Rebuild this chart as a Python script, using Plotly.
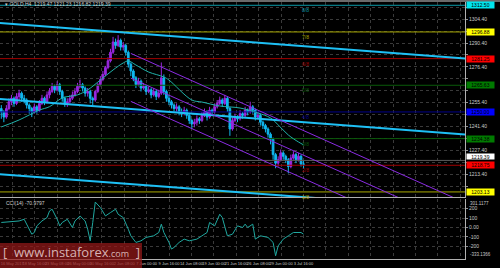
import plotly.graph_objects as go

# ---------------- data ----------------
closes = [1250,1247,1252,1256,1258,1255,1259,1261,1258,1257,
          1254,1252,1250,1253,1251,1255,1258,1256,1260,1262,
          1265,1263,1266,1262,1258,1255,1256,1258,1260,1262,
          1265,1266,1264,1261,1262,1258,1257,1262,1266,1269,
          1272,1276,1280,1285,1291,1289,1292,1288,1289,1285,
          1278,1274,1270,1266,1268,1264,1265,1262,1263,1260,
          1262,1259,1261,1270,1262,1258,1256,1254,1252,1253,
          1250,1249,1251,1248,1245,1243,1244,1246,1245,1248,
          1250,1247,1251,1250,1253,1255,1257,1255,1258,1252,
          1240,1245,1247,1246,1249,1248,1251,1250,1253,1251,
          1247,1248,1244,1242,1240,1237,1234,1225,1220,1222,
          1226,1224,1222,1218,1223,1225,1222,1224,1219.47,1219.39]
highs = [1254,1251,1254,1258,1260,1259,1261,1263,1262,1260,
         1258,1255,1253,1255,1254,1257,1260,1259,1262,1264,
         1267,1266,1268,1267,1263,1259,1258,1260,1262,1264,
         1267,1269,1267,1265,1264,1263,1259,1263,1267,1271,
         1274,1277,1282,1287,1294,1293,1295,1293,1291,1290,
         1286,1279,1275,1271,1270,1269,1267,1266,1265,1264,
         1264,1263,1263,1279,1272,1263,1260,1257,1255,1255,
         1254,1252,1253,1252,1249,1246,1246,1248,1247,1250,
         1252,1251,1253,1252,1255,1257,1259,1258,1260,1259,
         1253,1247,1249,1248,1251,1250,1253,1252,1256,1254,
         1252,1250,1249,1245,1243,1241,1238,1235,1226,1224,
         1228,1227,1225,1223,1225,1227,1226,1226,1225,1221.23]
lows = [1246,1244,1246,1251,1254,1253,1254,1257,1256,1255,
        1252,1249,1247,1249,1249,1250,1254,1254,1255,1258,
        1261,1261,1262,1260,1256,1253,1253,1255,1257,1259,
        1261,1264,1262,1259,1259,1255,1254,1256,1261,1265,
        1268,1271,1275,1279,1284,1287,1288,1286,1286,1283,
        1276,1271,1268,1264,1265,1262,1263,1260,1261,1258,
        1259,1257,1258,1260,1260,1256,1254,1252,1250,1250,
        1248,1247,1248,1246,1243,1240,1241,1242,1243,1244,
        1247,1245,1246,1248,1249,1252,1254,1253,1254,1250,
        1236,1239,1244,1244,1245,1246,1247,1248,1249,1249,
        1245,1246,1242,1240,1238,1235,1231,1222,1217,1218,
        1221,1222,1220,1214,1217,1222,1220,1221,1218,1216.82]
first_open = 1252

ma_bars = [0, 7, 15, 19, 24, 30, 34, 39, 44, 48, 50, 53, 58, 64, 66, 75, 79, 86, 94, 101, 106, 109, 113, 117, 119]
ma_vals = [1241.2, 1245.3, 1251.1, 1253.1, 1258.2, 1260.0, 1262.9, 1268.7, 1274.6, 1278.7, 1279.9,
           1277.5, 1273.4, 1270.5, 1268.7, 1257.0, 1255.8, 1253.5, 1252.3, 1249.4, 1246.5, 1242.4,
           1236.5, 1232.4, 1230.7]

cci_bars = [0,3,7,9,10,12,13,14,16,18,19,20,22,23,24,26,28,29,31,33,34,35,36,37,39,41,43,45,46,48,
            50,51,53,55,57,60,62,63,64,66,67,68,70,72,74,77,79,81,82,84,86,87,89,91,93,95,96,97,99,100,
            102,105,107,108,109,111,113,115,118,119]
cci_vals = [53,63,69,87,35,-71,-53,17,69,105,175,193,87,17,53,87,0,69,122,69,-18,-141,53,269,211,122,158,193,140,105,
            -18,-88,-158,-141,-105,-88,-53,35,-53,-158,-228,-211,-158,-123,-141,-123,-88,-53,53,17,140,105,-88,-71,17,0,35,0,35,-123,
            -88,-105,-158,-299,-194,-123,-88,-53,-53,-71]

mml_levels = [1312.50, 1296.88, 1281.25, 1265.63, 1250.00, 1234.38, 1218.75, 1203.13]
mml_names = ["8/8", "7/8", "6/8", "5/8", "4/8", "3/8", "2/8", "1/8"]

# trend lines: (bar_start, price_start, bar_end, price_end)
cyan_lines = [(0, 1302.1, 180, 1281.6), (0, 1257.5, 180, 1237.1), (0, 1213.4, 180, 1193.3)]
purple_lines = [(51, 1284.3, 185, 1195.2), (51, 1269.8, 185, 1180.8), (51, 1256.2, 185, 1167.1)]

date_labels = ["16 May 2017", "18 May 16:00", "23 May 08:00", "26 May 00:00", "30 May 16:00",
               "2 Jun 08:00", "7 Jun 00:00", "9 Jun 16:00", "14 Jun 08:00", "19 Jun 00:00",
               "21 Jun 16:00", "26 Jun 08:00", "29 Jun 00:00", "3 Jul 16:00"]
price_ticks = [1199.40 + 7 * k for k in range(17)]
cci_ticks = [200, 100, 0, -100, -200]
cci_max, cci_min = 301.1177, -333.1366
title_text = "GOLD,H4  1219.47 1221.23 1216.82 1219.39"
cci_title = "CCI(14) -70.9797"

# ---------------- layout geometry ----------------
W, H = 500, 268
def py(p):  # pixel-from-top -> paper y
    return 1 - p / H

X_RANGE = [-0.51, 182.56]
Y_RANGE = [1200.16, 1314.43]
PX_PER_PRICE = (197 - 2) / (Y_RANGE[1] - Y_RANGE[0])
grid_x = [4.3 + 8.82 * k for k in range(21)]
label_text = date_labels + [""] * (len(grid_x) - len(date_labels))

opens = [first_open] + closes[:-1]
bars = list(range(len(closes)))

# hide price tick labels that sit under a highlighted level label
highlighted = mml_levels + [closes[-1] + 2.2]
price_text = []
for v in price_ticks:
    near = any(abs(v - h) * PX_PER_PRICE < 6.5 for h in highlighted)
    price_text.append("" if near else "%.2f" % v)

fig = go.Figure()

mml_line_colors = ["#0a9aa8", "#a8a800", "#a00000", "#0a5a0a", "#00008c", "#0a5a0a", "#a00000", "#a8a800"]
mml_label_colors = ["#00e5ee", "#ffff00", "#ff0000", "#007a00", "#0000ff", "#007a00", "#ff0000", "#ffff00"]

for lvl, c in zip(mml_levels, mml_line_colors):
    fig.add_trace(go.Scatter(x=[X_RANGE[0] - 5, X_RANGE[1] + 5], y=[lvl, lvl], mode="lines",
                             line=dict(color=c, width=1), hoverinfo="skip", showlegend=False))

# bid line
fig.add_trace(go.Scatter(x=[X_RANGE[0] - 5, X_RANGE[1] + 5], y=[closes[-1] + 2.2, closes[-1] + 2.2], mode="lines",
                         line=dict(color="#5a5a5a", width=1), hoverinfo="skip", showlegend=False))

fig.add_trace(go.Candlestick(x=bars, open=opens, high=highs, low=lows, close=closes,
                             increasing=dict(line=dict(color="#9a28e0", width=1), fillcolor="#9a28e0"),
                             decreasing=dict(line=dict(color="#10b8f0", width=1), fillcolor="#10b8f0"),
                             whiskerwidth=0, showlegend=False, hoverinfo="skip"))

fig.add_trace(go.Scatter(x=ma_bars, y=ma_vals, mode="lines", line=dict(color="#20b2aa", width=1, shape="spline"),
                         hoverinfo="skip", showlegend=False))

for (x0, y0, x1, y1) in cyan_lines:
    s = (y1 - y0) / (x1 - x0)
    fig.add_trace(go.Scatter(x=[x0 - 2, x1 + 5], y=[y0 - 2 * s, y1 + 5 * s],
                             mode="lines", line=dict(color="#1ec0f5", width=2), hoverinfo="skip", showlegend=False))
for (x0, y0, x1, y1) in purple_lines:
    fig.add_trace(go.Scatter(x=[x0, x1], y=[y0, y1], mode="lines", line=dict(color="#8a2be2", width=1),
                             hoverinfo="skip", showlegend=False))

fig.add_trace(go.Scatter(x=cci_bars, y=cci_vals, mode="lines", xaxis="x2", yaxis="y2",
                         line=dict(color="#20a8a0", width=1), hoverinfo="skip", showlegend=False))

FONT = "Liberation Sans"
grid = dict(showgrid=True, gridcolor="#3a3a3a", griddash="dot", gridwidth=1, zeroline=False)

fig.update_layout(
    width=W, height=H, margin=dict(l=0, r=0, t=0, b=0),
    paper_bgcolor="#000000", plot_bgcolor="#000000",
    font=dict(family=FONT, size=5, color="#c8c8c8"),
    showlegend=False, boxgap=0.05,
    xaxis=dict(domain=[0, 0.93], range=X_RANGE, anchor="y", tickvals=grid_x, showticklabels=False,
               ticks="", showline=True, linecolor="#b0b0b0", linewidth=1,
               rangeslider=dict(visible=False), **grid),
    yaxis=dict(domain=[py(197), py(2)], range=Y_RANGE, side="right", anchor="x",
               tickvals=price_ticks, ticktext=price_text,
               ticks="outside", ticklen=2, tickcolor="#909090",
               showline=True, linecolor="#b0b0b0", linewidth=1, **grid),
    xaxis2=dict(domain=[0, 0.93], range=X_RANGE, anchor="y2", tickvals=grid_x, ticktext=label_text,
                ticks="", showline=True, linecolor="#b0b0b0", linewidth=1, tickangle=0,
                tickfont=dict(size=4, color="#c8c8c8"), **grid),
    yaxis2=dict(domain=[py(259), py(199)], range=[cci_min, cci_max], side="right", anchor="x2",
                tickvals=cci_ticks, ticktext=["200", "100", "0.00", "-100", "-200"],
                ticks="outside", ticklen=2, tickcolor="#909090",
                showline=True, linecolor="#b0b0b0", linewidth=1, **grid),
)

shapes = [
    dict(type="rect", xref="paper", yref="paper", x0=0, x1=1, y0=py(2), y1=1,
         fillcolor="#6a6a6a", line=dict(width=0), layer="above"),
    dict(type="rect", xref="paper", yref="paper", x0=0, x1=142 / W, y0=0, y1=py(243),
         fillcolor="rgba(150,25,25,0.72)", line=dict(width=0), layer="above"),
]
fig.update_layout(shapes=shapes)

ann = []
for lvl, name, c in zip(mml_levels, mml_names, mml_line_colors):
    ann.append(dict(x=117.5, y=lvl, xref="x", yref="y", text=name, showarrow=False,
                    xanchor="left", yanchor="top", font=dict(size=5, color=c)))
for lvl, c in zip(mml_levels, mml_label_colors):
    ann.append(dict(x=0.932, y=lvl, xref="paper", yref="y", text="%.2f" % lvl, showarrow=False,
                    xanchor="left", yanchor="middle", bgcolor=c, width=27, height=6, borderpad=0,
                    font=dict(size=5, color="#000000")))
ann.append(dict(x=0.932, y=closes[-1] + 2.2, xref="paper", yref="y", text="%.2f" % closes[-1], showarrow=False,
                xanchor="left", yanchor="bottom", bgcolor="#ffffff", width=27, height=5, borderpad=0,
                font=dict(size=5, color="#000000")))
ann.append(dict(x=0.935, y=cci_max, xref="paper", yref="y2", text="%.4f" % cci_max, showarrow=False,
                xanchor="left", yanchor="top", font=dict(size=4.5, color="#c8c8c8")))
ann.append(dict(x=0.935, y=cci_min, xref="paper", yref="y2", text="%.4f" % cci_min, showarrow=False,
                xanchor="left", yanchor="bottom", font=dict(size=4.5, color="#c8c8c8")))
ann.append(dict(x=0.006, y=py(4), xref="paper", yref="paper", text="▾ " + title_text, showarrow=False,
                xanchor="left", yanchor="middle", font=dict(size=5, color="#d0d0d0")))
ann.append(dict(x=0.008, y=py(203), xref="paper", yref="paper", text=cci_title, showarrow=False,
                xanchor="left", yanchor="middle", font=dict(size=5, color="#d0d0d0")))
ann.append(dict(x=71 / W, y=py(252), xref="paper", yref="paper",
                text="[  www.instaforex<span style='font-size:9px'>.com</span>  ]", showarrow=False,
                xanchor="center", yanchor="middle",
                font=dict(family="Open Sans", size=13, color="rgba(235,210,210,0.85)")))
fig.update_layout(annotations=ann)

fig.write_html("out.html", config=dict(displayModeBar=False))
